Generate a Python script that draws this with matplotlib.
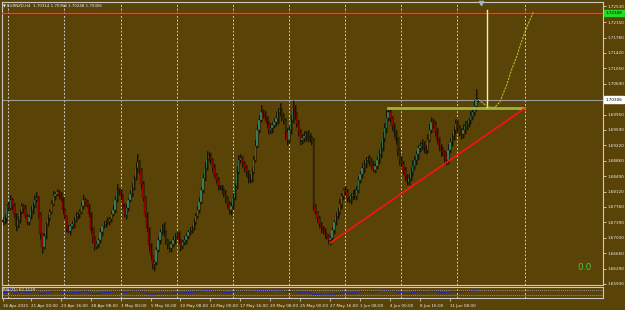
import numpy as np
import pandas as pd
import matplotlib.pyplot as plt
import matplotlib.transforms as mtransforms

# EURNZD H4 closes, one per bar (oldest first)
closes = [
    1.6740, 1.6749, 1.6780, 1.6773, 1.6792, 1.6778, 1.6759, 1.6730, 1.6745, 1.6764,
    1.6778, 1.6771, 1.6754, 1.6740, 1.6752, 1.6768, 1.6780, 1.6792, 1.6797, 1.6759,
    1.6711, 1.6681, 1.6707, 1.6735, 1.6749, 1.6764, 1.6783, 1.6802, 1.6806, 1.6811,
    1.6802, 1.6795, 1.6768, 1.6754, 1.6726, 1.6719, 1.6730, 1.6735, 1.6745, 1.6754,
    1.6759, 1.6764, 1.6778, 1.6792, 1.6787, 1.6780, 1.6759, 1.6721, 1.6702, 1.6683,
    1.6688, 1.6697, 1.6716, 1.6730, 1.6735, 1.6740, 1.6742, 1.6747, 1.6759, 1.6768,
    1.6792, 1.6816, 1.6811, 1.6802, 1.6778, 1.6757, 1.6773, 1.6792, 1.6806, 1.6821,
    1.6844, 1.6868, 1.6882, 1.6863, 1.6830, 1.6797, 1.6759, 1.6726, 1.6685, 1.6659,
    1.6640, 1.6645, 1.6674, 1.6697, 1.6716, 1.6730, 1.6716, 1.6697, 1.6688, 1.6678,
    1.6688, 1.6697, 1.6707, 1.6711, 1.6697, 1.6683, 1.6692, 1.6697, 1.6707, 1.6716,
    1.6721, 1.6726, 1.6740, 1.6754, 1.6768, 1.6787, 1.6816, 1.6844, 1.6868, 1.6892,
    1.6897, 1.6887, 1.6868, 1.6851, 1.6840, 1.6825, 1.6821, 1.6816, 1.6806, 1.6797,
    1.6783, 1.6768, 1.6778, 1.6797, 1.6825, 1.6859, 1.6887, 1.6892, 1.6878, 1.6868,
    1.6859, 1.6844, 1.6840, 1.6859, 1.6887, 1.6920, 1.6958, 1.6982, 1.7001, 1.6994,
    1.6987, 1.6973, 1.6958, 1.6963, 1.6970, 1.6977, 1.6987, 1.7001, 1.7006, 1.6992,
    1.6982, 1.6954, 1.6935, 1.6958, 1.6982, 1.7011, 1.6996, 1.6973, 1.6954, 1.6935,
    1.6939, 1.6944, 1.6949, 1.6944, 1.6939, 1.6935, 1.6778, 1.6764, 1.6749, 1.6735,
    1.6726, 1.6721, 1.6711, 1.6707, 1.6697, 1.6702, 1.6721, 1.6740, 1.6754, 1.6764,
    1.6783, 1.6802, 1.6816, 1.6811, 1.6797, 1.6792, 1.6802, 1.6806, 1.6802, 1.6816,
    1.6840, 1.6854, 1.6868, 1.6878, 1.6887, 1.6892, 1.6882, 1.6873, 1.6863, 1.6873,
    1.6887, 1.6901, 1.6916, 1.6939, 1.6963, 1.6987, 1.7001, 1.6987, 1.6968, 1.6954,
    1.6935, 1.6911, 1.6887, 1.6878, 1.6863, 1.6849, 1.6835, 1.6844, 1.6859, 1.6873,
    1.6887, 1.6901, 1.6916, 1.6920, 1.6925, 1.6916, 1.6911, 1.6935, 1.6958, 1.6977,
    1.6973, 1.6954, 1.6935, 1.6920, 1.6911, 1.6906, 1.6897, 1.6887, 1.6911, 1.6930,
    1.6944, 1.6958, 1.6973, 1.6963, 1.6954, 1.6949, 1.6958, 1.6968, 1.6973, 1.6982,
    1.6992, 1.7001, 1.7015, 1.70314, 1.70306,
]
first_open = 1.6745

# wick lengths in pips above / below the body
wick_up = [
    6, 10, 4, 8, 12, 5, 7, 3, 9, 6, 8, 4, 10, 6, 5, 9, 7, 12, 14, 4,
    5, 3, 8, 6, 9, 7, 10, 12, 6, 8, 5, 9, 4, 6, 3, 7, 5, 8, 6, 10,
    4, 7, 9, 12, 5, 6, 3, 4, 7, 5, 8, 6, 10, 4, 7, 5, 9, 6, 8, 12,
    10, 14, 6, 8, 5, 7, 9, 6, 10, 12, 8, 14, 20, 6, 5, 7, 4, 6, 3, 5,
    4, 6, 8, 10, 7, 5, 9, 6, 4, 8, 6, 10, 7, 5, 8, 4, 6, 9, 7, 5,
    8, 6, 10, 7, 9, 12, 8, 10, 14, 16, 10, 8, 6, 9, 5, 7, 4, 8, 6, 10,
    5, 7, 9, 12, 8, 14, 12, 10, 6, 8, 7, 5, 9, 12, 10, 14, 16, 12, 18, 8,
    10, 6, 8, 12, 7, 9, 14, 10, 16, 6, 8, 5, 9, 10, 12, 18, 8, 6, 10, 7,
    9, 12, 8, 10, 7, 6, 4, 5, 3, 6, 5, 4, 6, 3, 5, 4, 8, 6, 10, 9,
    12, 8, 6, 9, 7, 5, 8, 10, 12, 9, 10, 8, 12, 9, 7, 6, 8, 10, 12, 8,
    10, 12, 14, 16, 12, 18, 10, 8, 6, 7, 5, 8, 6, 9, 7, 8, 6, 10, 12, 14,
    10, 8, 7, 9, 12, 8, 6, 14, 16, 12, 8, 6, 9, 7, 5, 8, 6, 10, 14, 9,
    8, 10, 12, 9, 8, 10, 14, 12, 10, 8, 12, 10, 14, 25, 4,
]
wick_dn = [
    8, 5, 10, 6, 4, 9, 7, 12, 5, 8, 6, 10, 4, 8, 7, 5, 9, 6, 4, 10,
    12, 14, 6, 8, 5, 7, 4, 6, 9, 5, 7, 4, 8, 6, 10, 5, 9, 6, 8, 4,
    6, 9, 5, 7, 10, 4, 8, 6, 12, 10, 8, 10, 6, 9, 5, 7, 4, 8, 6, 5,
    7, 4, 6, 10, 8, 5, 9, 6, 4, 7, 6, 5, 8, 10, 12, 8, 6, 9, 14, 10,
    12, 16, 8, 6, 9, 7, 10, 8, 12, 9, 8, 6, 10, 7, 9, 12, 8, 6, 10, 7,
    6, 8, 5, 7, 4, 6, 5, 8, 6, 4, 6, 9, 7, 5, 8, 10, 6, 9, 7, 12,
    10, 8, 12, 6, 5, 7, 4, 6, 8, 10, 9, 12, 8, 6, 4, 5, 3, 6, 5, 8,
    6, 9, 10, 8, 12, 6, 9, 14, 8, 12, 10, 16, 12, 8, 10, 6, 12, 8, 10, 12,
    9, 10, 12, 14, 8, 12, 10, 6, 8, 9, 12, 10, 8, 6, 9, 12, 7, 10, 8, 6,
    8, 12, 10, 7, 9, 6, 8, 10, 7, 9, 6, 8, 10, 12, 9, 7, 8, 6, 5, 7,
    6, 8, 10, 7, 9, 12, 8, 10, 9, 12, 10, 14, 12, 8, 10, 9, 7, 8, 6, 10,
    9, 12, 14, 10, 8, 12, 10, 8, 6, 7, 9, 10, 8, 12, 14, 10, 16, 12, 10, 8,
    10, 8, 9, 7, 10, 12, 9, 8, 10, 7, 8, 10, 9, 12, 6,
]

# the 1.70320 level sits under the current-price box, so it is not listed
price_ticks = [1.72530, 1.72150, 1.71780, 1.71420, 1.71050, 1.70690,
               1.69950, 1.69590, 1.69220, 1.68860, 1.68490, 1.68120, 1.67760,
               1.67390, 1.67030, 1.66660, 1.66290, 1.65930]
time_idx = [0, 15, 31, 47, 63, 79, 95, 111, 127, 143, 159, 175, 191, 207, 223, 239]
time_labels = ['16 Apr 2021', '21 Apr 00:00', '23 Apr 16:00', '28 Apr 08:00',
               '3 May 00:00', '5 May 16:00', '10 May 08:00', '13 May 00:00',
               '17 May 16:00', '20 May 08:00', '25 May 00:00', '27 May 16:00',
               '1 Jun 08:00', '4 Jun 00:00', '8 Jun 16:00', '11 Jun 08:00']
grid_idx = [3, 33, 63, 93, 123, 153, 183, 213, 243, 279.4]

last_price = 1.70306
alert_price = 1.72363
resist_price = 1.70097
resist_span = [205.9, 278.6]
trend_t = [174.9, 278.9]
trend_p = [1.66903, 1.70096]
vline_t = 259.0
vline_p = [1.70132, 1.72435]
proj_t = [254.2, 256.2, 258.7, 260.5, 263.1, 265.8, 267.4, 269.4, 271.7, 274.7,
          276.5, 279.2, 281.3, 283.7]
proj_p = [1.70315, 1.70239, 1.70156, 1.70127, 1.70125, 1.70258, 1.70440, 1.70654,
          1.70986, 1.71326, 1.71580, 1.71919, 1.72150, 1.72394]

bg = '#5A4307'
frame = '#C8C8C8'
txt = '#EEEEEE'
W, H = 625, 310
pip = 0.0001
fs = 3.0


def px_rect(x0, y0, x1, y1):
    return [x0 / W, 1 - y1 / H, (x1 - x0) / W, (y1 - y0) / H]


fig = plt.figure(figsize=(W / 100, H / 100), dpi=100, facecolor=bg)
ax = fig.add_axes(px_rect(2, 2, 603, 285))
rsi_ax = fig.add_axes(px_rect(2, 287, 603, 298), sharex=ax)

for a in (ax, rsi_ax):
    a.set_facecolor(bg)
    for s in a.spines.values():
        s.set_color(frame)
        s.set_linewidth(0.8)
    for g in grid_idx:
        a.axvline(g, color='#E4E4E4', lw=0.6, ls=(0, (2.2, 2.2)), zorder=1)

# candles
c = np.array(closes)
o = np.array([first_open] + closes[:-1])
idx = np.arange(len(c))
hi = np.maximum(o, c) + np.array(wick_up) * pip
lo = np.minimum(o, c) - np.array(wick_dn) * pip
bull = c >= o
body = np.where(np.abs(c - o) < 0.00005, 0.00005, c - o)

ax.vlines(idx + 0.55, lo, hi, color='#3A2E02', lw=1.4, zorder=2)
ax.vlines(idx, lo, hi, color='#141000', lw=0.6, zorder=3)
ax.bar(idx[bull], body[bull], bottom=o[bull], width=0.7, color='#3F8F72',
       edgecolor='#141000', linewidth=0.2, zorder=4)
ax.bar(idx[~bull], body[~bull], bottom=o[~bull], width=0.7, color='#A80000',
       edgecolor='#141000', linewidth=0.2, zorder=4)

# objects
ax.axhline(last_price, color='#9A9A9A', lw=0.8, zorder=2)
ax.axhline(alert_price, color='#E00000', lw=1.0, zorder=5)
ax.axhline(alert_price + 0.00003, color='#40E040', lw=0.4, zorder=5)
ax.plot(resist_span, [resist_price, resist_price], color='#9CB53A', lw=2.0, zorder=5)
ax.plot(trend_t, trend_p, color='#FF1010', lw=1.2, zorder=5)
ax.plot([vline_t, vline_t], vline_p, color='#F4F48C', lw=1.0, zorder=5)
ax.plot(proj_t, proj_p, color='#A8C430', lw=0.8, ls=(0, (2, 1)), zorder=5)
ax.plot([255.5], [1.72600], marker='v', ms=3, color='#9FB4CC', zorder=6,
        clip_on=False)

ax.set_xlim(-0.37, 320.85)
ax.set_ylim(1.65906, 1.72625)

ax.yaxis.tick_right()
ax.set_yticks(price_ticks)
ax.set_yticklabels([f'{p:.5f}' for p in price_ticks])
ax.tick_params(axis='y', labelsize=fs, colors=txt, length=2, width=0.5, pad=1.2)
ax.tick_params(axis='x', bottom=False, labelbottom=False)

yt = mtransforms.blended_transform_factory(ax.transAxes, ax.transData)
ax.text(1.0045, last_price, f'{last_price:.5f}', transform=yt, fontsize=fs,
        color='black', va='center', ha='left', zorder=7,
        bbox=dict(boxstyle='square,pad=0.3', fc='white', ec='white'))
ax.text(1.0045, alert_price, '1.72349', transform=yt, fontsize=fs,
        color='black', va='center', ha='left', zorder=7,
        bbox=dict(boxstyle='square,pad=0.3', fc='#22DD22', ec='#22DD22'))

fig.text(585 / W, 1 - 268 / H, '0.0', fontsize=6.5,
         color='#3CCC3C', ha='center', va='center')
fig.text(4 / W, 1 - 6 / H, '▼', fontsize=2.8, color=txt, ha='center', va='center')
fig.text(7 / W, 1 - 6 / H, 'EURNZD,H4  1.70314 1.70354 1.70248 1.70306',
         fontsize=2.9, color=txt, ha='left', va='center')

# RSI(21) sub window
delta = pd.Series(closes).diff().fillna(0)
gain = delta.clip(lower=0).ewm(alpha=1 / 21, adjust=False).mean()
loss = (-delta.clip(upper=0)).ewm(alpha=1 / 21, adjust=False).mean()
rsi = 100 - 100 / (1 + gain / loss.replace(0, np.nan))
rsi = rsi.fillna(50)
rsi_ax.plot(idx, rsi.values, color='#2020C8', lw=0.7)
for lvl in (70, 30):
    rsi_ax.axhline(lvl, color='#B0B0B0', lw=0.5, ls=(0, (1.5, 1.5)))
rsi_ax.set_ylim(0, 100)
rsi_ax.set_yticks([])
rsi_ax.text(0.002, 0.72, 'RSI(21) 62.1129', transform=rsi_ax.transAxes,
            fontsize=2.9, color=txt, va='center', ha='left')
rsi_ax.set_xticks(time_idx)
rsi_ax.set_xticklabels(time_labels, ha='left')
rsi_ax.tick_params(axis='x', labelsize=fs, colors=txt, length=2, width=0.5, pad=2.5)

fig.savefig('out.png', dpi=100, facecolor=bg)
